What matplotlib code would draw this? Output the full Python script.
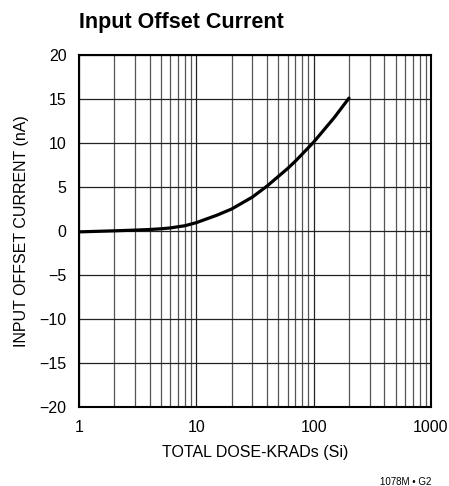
import matplotlib
matplotlib.use("Agg")
import matplotlib.pyplot as plt
from matplotlib.ticker import FixedLocator, NullFormatter

plt.rcParams['font.family'] = ['Liberation Sans', 'DejaVu Sans']

dose = [1, 2, 3, 4, 5, 6, 8, 10, 15, 20, 30, 40, 50, 60, 70, 80, 100, 150, 200]
current = [-0.1, 0.02, 0.1, 0.17, 0.25, 0.35, 0.6, 0.95, 1.8, 2.5, 3.85, 5.1, 6.2, 7.1, 7.95, 8.75, 10.1, 12.9, 15.1]
xticks = [1, 10, 100, 1000]
xticklabels = ["1", "10", "100", "1000"]
yticks = [-20, -15, -10, -5, 0, 5, 10, 15, 20]
yticklabels = ["\u221220", "\u221215", "\u221210", "\u22125", "0", "5", "10", "15", "20"]

W, H = 449, 486
fig = plt.figure(figsize=(W/100, H/100), dpi=100)
ax = fig.add_axes([79/W, 1-407/H, (431-79)/W, (407-55)/H])
ax.set_xscale('log')
ax.set_xlim(1, 1000)
ax.set_ylim(-20, 20)
ax.set_xticks(xticks)
ax.set_xticklabels(xticklabels)
minor = [m * 10**e for e in range(0, 3) for m in range(2, 10)]
ax.xaxis.set_minor_locator(FixedLocator(minor))
ax.xaxis.set_minor_formatter(NullFormatter())
ax.set_yticks(yticks)
ax.set_yticklabels(yticklabels)
ax.grid(True, which='major', color='#222222', linewidth=0.9)
ax.grid(True, which='minor', axis='x', color='#555555', linewidth=0.9)
ax.tick_params(which='both', length=0, labelsize=11.5)
ax.tick_params(axis='x', pad=9)
ax.tick_params(axis='y', pad=9)
for s in ax.spines.values():
    s.set_linewidth(1.5)
    s.set_color('black')
ax.plot(dose, current, color='black', linewidth=2.3, solid_capstyle='round', zorder=5)
ax.set_xlabel("TOTAL DOSE-KRADs (Si)", fontsize=11.5)
ax.xaxis.label.set_va('baseline')
ax.xaxis.set_label_coords(0.5, (407-457)/352)
ax.set_ylabel("INPUT OFFSET CURRENT (nA)", fontsize=11.5)
ax.yaxis.label.set_va('center')
ax.yaxis.set_label_coords((21-79)/352, 0.5)
fig.text(79/W, 1-28/H, "Input Offset Current", fontsize=15.5, fontweight='bold', va='baseline', ha='left')
fig.text(431/W, 1-485/H, "1078M \u2022 G2", fontsize=7, ha='right', va='baseline')
fig.savefig("out.png", dpi=100)
